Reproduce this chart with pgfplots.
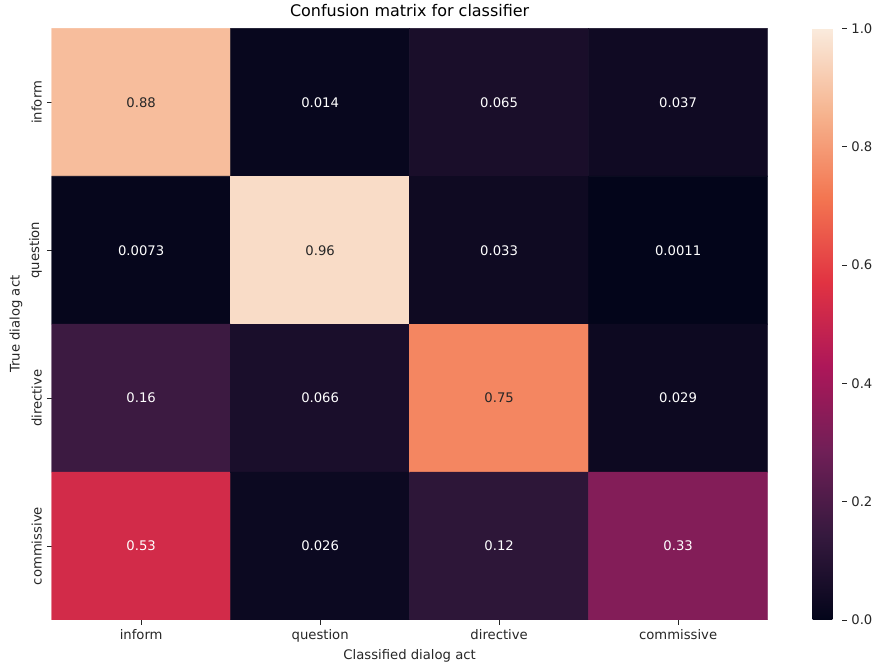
\documentclass[border=0pt]{standalone}
\usepackage{pgfplots}
\usepackage{pgfplotstable}
\pgfplotsset{compat=1.18}
\usepackage{fontspec}
\setmainfont{DejaVu Sans}
\definecolor{txt}{HTML}{262626}

\pgfplotstableread{
x y c
0 0 0.88
1 0 0.014
2 0 0.065
3 0 0.037
0 1 0.0073
1 1 0.96
2 1 0.033
3 1 0.0011
0 2 0.16
1 2 0.066
2 2 0.75
3 2 0.029
0 3 0.53
1 3 0.026
2 3 0.12
3 3 0.33
}\cmtable

\pgfplotstableread{
x y lbl
0 0 0.88
1 1 0.96
2 2 0.75
}\darklbl

\pgfplotstableread{
x y lbl
1 0 0.014
2 0 0.065
3 0 0.037
0 1 0.0073
2 1 0.033
3 1 0.0011
0 2 0.16
1 2 0.066
3 2 0.029
0 3 0.53
1 3 0.026
2 3 0.12
3 3 0.33
}\lightlbl

\pgfplotsset{
  /pgf/number format/assume math mode=true,
  every tick label/.append style={font=\fontsize{9.5}{11}\selectfont, text=txt},
}

\begin{document}
\begin{tikzpicture}
\begin{axis}[
  name=hm,
  at={(0,0)}, anchor=south west,
  width=515.5pt, height=426pt, scale only axis,
  xmin=-0.5, xmax=3.5, ymin=-0.5, ymax=3.5,
  y dir=reverse,
  enlargelimits=false,
  axis line style={draw=none},
  xtick={0,1,2,3}, xticklabels={inform,question,directive,commissive},
  ytick={0,1,2,3}, yticklabels={inform,question,directive,commissive},
  yticklabel style={rotate=90, anchor=south},
  tick pos=left,
  tick align=outside,
  major tick length=3.5pt,
  tick style={txt, line width=0.6pt},
  colormap={rocket}{rgb255=(3,5,26) rgb255=(53,25,62) rgb255=(112,31,87) rgb255=(173,23,89) rgb255=(225,51,66) rgb255=(243,118,81) rgb255=(246,180,143) rgb255=(250,235,221)},
  point meta min=0, point meta max=1,
  colorbar,
  colorbar shift/.style={xshift=32.4pt},
  colorbar style={
    at={(parent axis.north east)}, anchor=north west,
    width=20.9pt, scale only axis,
    axis line style={draw=none},
    ytick={0,0.2,0.4,0.6,0.8,1},
    yticklabel={\pgfmathprintnumber[fixed,fixed zerofill,precision=1]{\tick}},
    tick pos=right,
    yticklabel pos=right,
    tick align=outside,
    major tick length=3.5pt,
    tick style={txt, line width=0.6pt},
    yticklabel style={font=\fontsize{9.5}{11}\selectfont, text=txt},
  },
  title={Confusion matrix for classifier},
  title style={font=\fontsize{11.5}{13}\selectfont, text=black, yshift=-1pt},
  xlabel={Classified dialog act},
  ylabel={True dialog act},
  label style={font=\fontsize{9.5}{11}\selectfont, text=txt},
  xlabel style={yshift=2pt},
  ylabel style={yshift=-2pt},
]
\addplot[matrix plot*, mesh/cols=4, point meta=explicit] table[x=x, y=y, meta=c] {\cmtable};
\addplot[only marks, mark=none, point meta=explicit symbolic, nodes near coords,
  nodes near coords style={anchor=center, text=white, font=\fontsize{9.5}{11}\selectfont}]
  table[x=x, y=y, meta=lbl] {\lightlbl};
\addplot[only marks, mark=none, point meta=explicit symbolic, nodes near coords,
  nodes near coords style={anchor=center, text=txt, font=\fontsize{9.5}{11}\selectfont}]
  table[x=x, y=y, meta=lbl] {\darklbl};
\end{axis}
\pgfresetboundingbox
\path[use as bounding box] (-37.2pt,-35.3pt) rectangle (595.7pt,446.4pt);
\end{tikzpicture}
\end{document}
